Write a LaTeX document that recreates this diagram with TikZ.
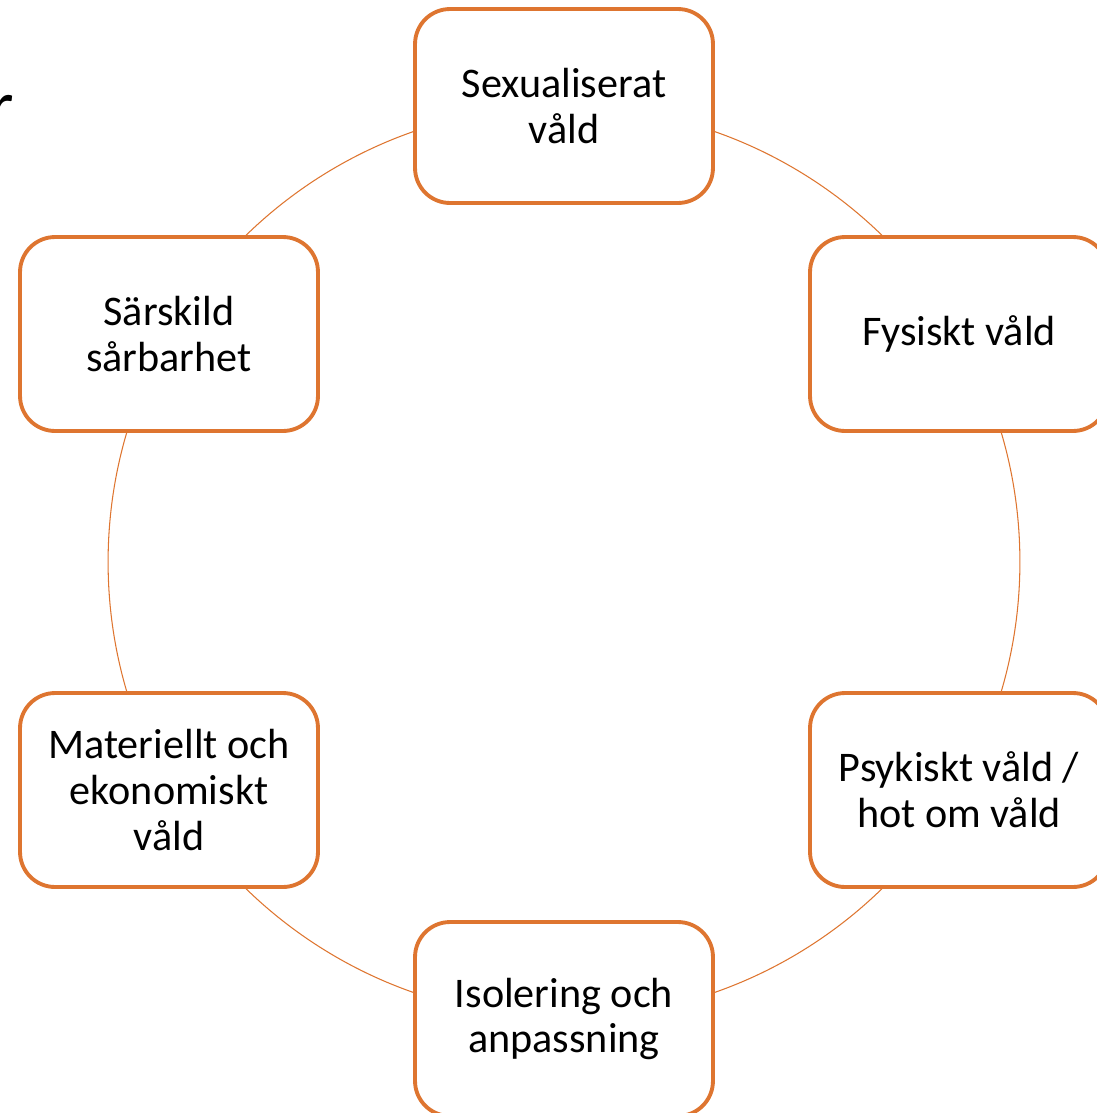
\documentclass[tikz,border=0pt]{standalone}
\usepackage{fontspec}
\setmainfont{Carlito}
\usepackage{xcolor}
\usepackage{tikz}
\definecolor{violence}{RGB}{222,117,48}

\begin{document}
\begin{tikzpicture}[x=0.02cm, y=-0.02cm,
  form/.style={draw=violence, line width=2.2pt, fill=white, rounded corners=0.7cm,
    minimum width=5.96cm, minimum height=3.88cm, inner sep=0pt, align=center,
    font=\fontsize{24}{26}\selectfont}]
  \useasboundingbox (0,0) rectangle (1097,1113);
  \clip (0,0) rectangle (1097,1113);

  % ring behind the boxes
  \coordinate (mid) at (564,562);
  \draw[violence, line width=0.6pt] (mid) circle (9.12cm);

  \node[form] (sexual) at (564,106) {Sexualiserat\\våld};
  \node[form] (fysiskt) at (959,334) {Fysiskt våld};
  \node[form] (psykiskt) at (959,790) {Psykiskt våld /\\hot om våld};
  \node[form] (isolering) at (564,1019) {Isolering och\\anpassning};
  \node[form] (materiellt) at (169,790) {Materiellt och\\ekonomiskt\\våld};
  \node[form] (sarbar) at (169,334) {Särskild\\sårbarhet};

  % cut-off letter at the left edge
  \node[anchor=base west, inner sep=0pt, font=\fontsize{40}{46}\selectfont] (rest) at (-11,129) {r};
\end{tikzpicture}
\end{document}
